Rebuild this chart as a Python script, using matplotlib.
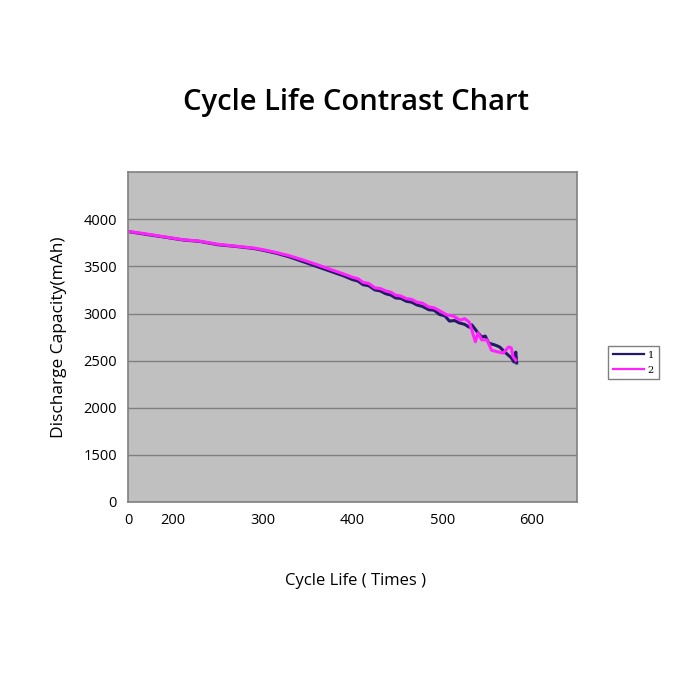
import numpy as np
import matplotlib
matplotlib.use('Agg')
import matplotlib.pyplot as plt

# series 1 (dark) and series 2 (magenta)
cycles_1 = [150, 170, 190, 210, 230, 250, 270, 290, 300, 315, 330, 345, 360, 375,
            390, 400, 406, 412, 418, 425, 431, 437, 443, 448, 454, 460, 466, 472,
            478, 485, 491, 497, 503, 508, 514, 519, 525, 530, 533,
            539, 544, 548, 552, 559, 564, 571, 577, 580, 582, 583]
cap_1 = [3870, 3840, 3812, 3782, 3765, 3730, 3712, 3690, 3672, 3640, 3600, 3550, 3500, 3450,
         3400, 3360, 3345, 3305, 3295, 3250, 3240, 3210, 3195, 3165, 3160, 3130, 3120, 3090,
         3075, 3040, 3035, 2990, 2975, 2920, 2925, 2900, 2885, 2855, 2880,
         2805, 2750, 2760, 2685, 2665, 2645, 2580, 2530, 2485, 2590, 2475]

cycles_2 = [150, 170, 190, 210, 230, 250, 270, 290, 300, 315, 330, 345, 360, 375,
            390, 400, 406, 412, 418, 425, 431, 437, 443, 448, 454, 460, 466, 472,
            478, 485, 491, 497, 505, 512, 520, 525, 530, 533,
            537, 540, 544, 550, 555, 563, 568, 574, 577, 579, 582]
cap_2 = [3872, 3845, 3815, 3785, 3768, 3735, 3715, 3695, 3678, 3648, 3612, 3568, 3520, 3470,
         3420, 3385, 3370, 3330, 3320, 3272, 3265, 3240, 3225, 3195, 3185, 3158, 3150, 3120,
         3110, 3070, 3060, 3030, 2985, 2975, 2930, 2945, 2910, 2825,
         2700, 2795, 2720, 2720, 2610, 2590, 2580, 2645, 2635, 2540, 2505]

x_ticks = [150, 200, 300, 400, 500, 600]
x_labels = ['0', '200', '300', '400', '500', '600']
y_ticks = [1000, 1500, 2000, 2500, 3000, 3500, 4000]
y_labels = ['0', '1500', '2000', '2500', '3000', '3500', '4000']

plt.rcParams['font.family'] = ['Open Sans', 'DejaVu Sans']

fig = plt.figure(figsize=(7, 7), dpi=100)
ax = fig.add_axes([0.183, 0.283, 0.641, 0.471])
ax.set_facecolor('#c0c0c0')

l1, = ax.plot(cycles_1, cap_1, color='#221a66', lw=2.2)
l2, = ax.plot(cycles_2, cap_2, color='#ff22ff', lw=2.2)

ax.set_xlim(150, 650)
ax.set_ylim(1000, 4500)
ax.set_xticks(x_ticks)
ax.set_xticklabels(x_labels, fontsize=10.5)
ax.set_yticks(y_ticks)
ax.set_yticklabels(y_labels, fontsize=10.5)
ax.tick_params(length=0, pad=8)
ax.grid(axis='y', color='#7f7f7f', lw=1)
ax.set_axisbelow(True)
for s in ax.spines.values():
    s.set_color('#808080')
    s.set_linewidth(1.2)

ax.set_ylabel('Discharge Capacity(mAh)', fontsize=12.5, labelpad=12)
fig.text(0.508, 0.17, 'Cycle Life ( Times )', ha='center', va='center', fontsize=12)
fig.text(0.508, 0.853, 'Cycle Life Contrast Chart', ha='center', va='center',
         fontsize=21, fontweight='semibold')

leg = fig.legend([l1, l2], ['1', '2'], loc='center', bbox_to_anchor=(0.905, 0.482),
                 prop={'family': 'DejaVu Serif', 'size': 7}, handlelength=3.2,
                 fancybox=False, framealpha=1, edgecolor='#808080', borderpad=0.5,
                 labelspacing=0.6, handletextpad=0.4)
leg.get_frame().set_linewidth(1.0)
for h in leg.get_lines():
    h.set_linewidth(1.6)

fig.savefig('out.png', dpi=100)
